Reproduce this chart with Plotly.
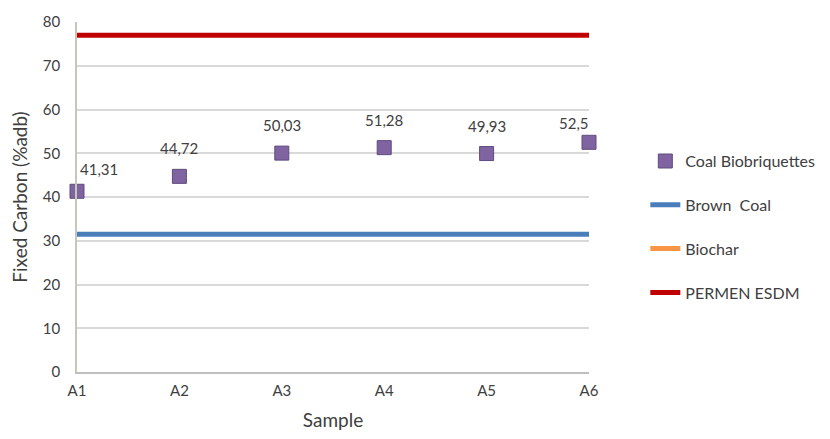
import plotly.graph_objects as go

samples = ["A1", "A2", "A3", "A4", "A5", "A6"]
coal_biobriquettes = [41.31, 44.72, 50.03, 51.28, 49.93, 52.5]
labels = ["41,31", "44,72", "50,03", "51,28", "49,93", "52,5"]
brown_coal = [31.5, 31.5, 31.5, 31.5, 31.5, 31.5]
biochar = [None, None, None, None, None, None]
permen_esdm = [77, 77, 77, 77, 77, 77]

FONT = "Lato, 'Open Sans', sans-serif"
TXT = "#404040"

fig = go.Figure()
fig.add_trace(go.Scatter(
    x=samples, y=coal_biobriquettes, mode="markers", name="Coal Biobriquettes",
    marker=dict(symbol="square", size=14, color="#8064A2", line=dict(color="#5F4A7E", width=1)),
    cliponaxis=False, legendgroup="a"))
fig.add_trace(go.Scatter(
    x=samples, y=brown_coal, mode="lines", name="Brown  Coal",
    line=dict(color="#4A7EBB", width=5), cliponaxis=False, legendgroup="b"))
fig.add_trace(go.Scatter(
    x=samples, y=biochar, mode="lines", name="Biochar",
    line=dict(color="#F79646", width=5), legendgroup="c"))
fig.add_trace(go.Scatter(
    x=samples, y=permen_esdm, mode="lines", name="PERMEN ESDM",
    line=dict(color="#C00000", width=5), cliponaxis=False, legendgroup="d"))

xanchors = ["left", "center", "center", "center", "center", "right"]
xshifts = [1, 0, 0, 0, 0, 2]
yshifts = [22, 28, 28, 28, 28, 19]
for s, v, t, xa, xs, ys in zip(samples, coal_biobriquettes, labels, xanchors, xshifts, yshifts):
    fig.add_annotation(x=s, y=v, text=t, showarrow=False, yshift=ys, xanchor=xa, xshift=xs,
                       font=dict(family=FONT, size=15, color=TXT))

# page body has an 8px margin: figure sized/margined to compensate
fig.update_layout(
    width=814, height=423,
    margin=dict(l=69, r=233, t=14, b=59, autoexpand=False),
    paper_bgcolor="white", plot_bgcolor="white",
    font=dict(family=FONT, size=15, color=TXT),
    showlegend=True,
    legend=dict(x=1.11, y=0.414, xanchor="left", yanchor="middle",
                font=dict(family=FONT, size=16, color=TXT),
                tracegroupgap=20, bgcolor="rgba(0,0,0,0)"),
)
fig.update_xaxes(
    type="category", range=[0, 5], showgrid=False, showline=True, automargin=False,
    linecolor="#BFBFBF", linewidth=1.5, ticks="", ticklabelstandoff=4,
    tickfont=dict(size=15, color=TXT),
    title=dict(text="Sample", font=dict(size=19, color=TXT), standoff=20),
)
fig.update_yaxes(
    range=[0, 80], dtick=10, showgrid=True, gridcolor="#D9D9D9", gridwidth=1.5,
    showline=True, linecolor="#C4C8B8", linewidth=1.5, ticks="", zeroline=False,
    automargin=False, ticklabelstandoff=12,
    tickfont=dict(size=15, color=TXT),
    title=dict(text="Fixed Carbon (%adb)", font=dict(size=19, color=TXT), standoff=10),
)

fig.write_html("out.html")
